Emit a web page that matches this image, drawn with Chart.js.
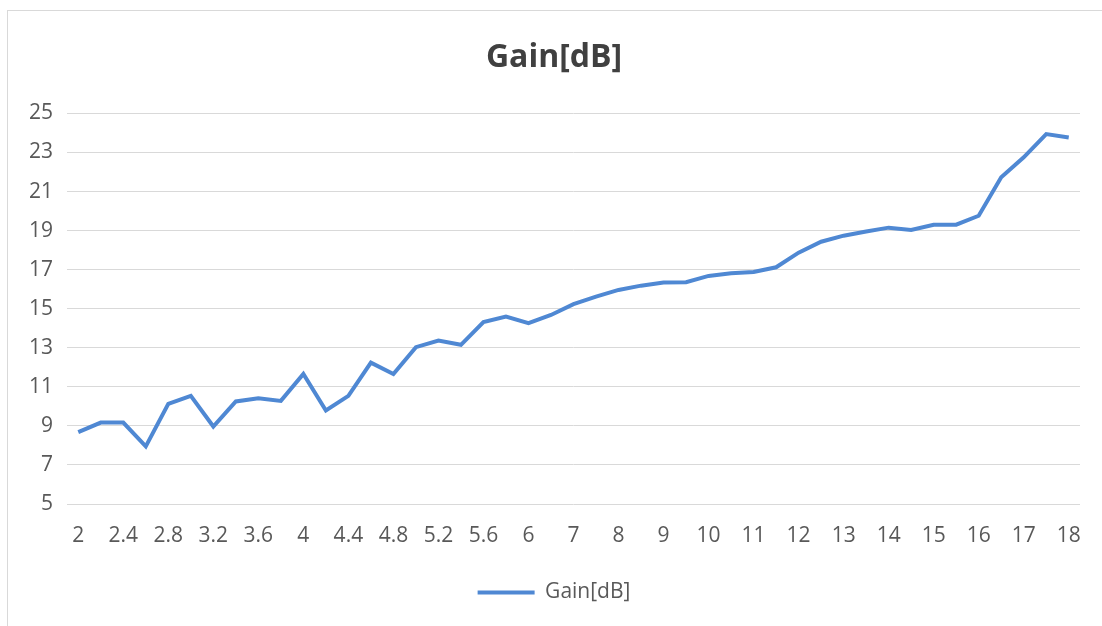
<!DOCTYPE html>
<html>
<head>
<meta charset="utf-8">
<script src="https://cdn.jsdelivr.net/npm/chart.js@4.4.0/dist/chart.umd.min.js"></script>
<style>
  html, body { margin: 0; padding: 0; background: #ffffff; }
  #frame { position: absolute; left: 7px; top: 10px; width: 1200px; height: 700px; border: 1px solid #d9d9d9; box-sizing: border-box; }
  #c { position: absolute; left: 0; top: 0; }
</style>
</head>
<body>
<div id="frame"></div>
<canvas id="c" width="1102" height="626"></canvas>
<script>
const categories = ['2','2.2','2.4','2.6','2.8','3','3.2','3.4','3.6','3.8','4','4.2','4.4','4.6','4.8','5','5.2','5.4','5.6','5.8','6',
  '6.5','7','7.5','8','8.5','9','9.5','10','10.5','11','11.5','12','12.5','13','13.5','14','14.5','15','15.5','16','16.5','17','17.5','18'];
const gainValues = [8.68, 9.17, 9.17, 7.95, 10.13, 10.54, 8.97, 10.25, 10.42, 10.28, 11.66, 9.79, 10.54, 12.24, 11.66, 13.03, 13.37, 13.15, 14.31, 14.6, 14.26,
  14.68, 15.23, 15.62, 15.96, 16.18, 16.34, 16.36, 16.68, 16.82, 16.88, 17.12, 17.87, 18.43, 18.74, 18.95, 19.15, 19.03, 19.30, 19.30, 19.76, 21.73, 22.75, 23.94, 23.77];
const shownTickLabels = ['2','2.4','2.8','3.2','3.6','4','4.4','4.8','5.2','5.6','6','7','8','9','10','11','12','13','14','15','16','17','18'];
const yTicks = [5, 7, 9, 11, 13, 15, 17, 19, 21, 23, 25];

const lineColor = '#4f88d3';
const textColor = '#595959';
const gridColor = '#d9d9d9';
const fontFamily = '"Open Sans", "Noto Sans", sans-serif';

new Chart(document.getElementById('c'), {
  type: 'line',
  data: {
    labels: categories,
    datasets: [{
      label: 'Gain[dB]',
      data: gainValues,
      borderColor: lineColor,
      backgroundColor: lineColor,
      borderWidth: 4,
      pointRadius: 0,
      tension: 0,
      fill: false
    }]
  },
  options: {
    responsive: false,
    animation: false,
    devicePixelRatio: 1,
    layout: { padding: { left: 28, right: 22, top: 0, bottom: 13 } },
    plugins: {
      title: {
        display: true,
        text: 'Gain[dB]',
        color: '#404040',
        font: { family: fontFamily, size: 32, weight: 'bold' },
        padding: { top: 39, bottom: 36 }
      },
      legend: {
        display: true,
        position: 'bottom',
        labels: {
          color: textColor,
          font: { family: fontFamily, size: 21 },
          boxWidth: 57,
          boxHeight: 4,
          padding: 8,
          generateLabels: function(chart) {
            const items = Chart.defaults.plugins.legend.labels.generateLabels(chart);
            items.forEach(function(it) { it.lineWidth = 0; it.fillStyle = lineColor; it.strokeStyle = lineColor; });
            return items;
          }
        }
      },
      tooltip: { enabled: false }
    },
    scales: {
      x: {
        type: 'category',
        offset: true,
        grid: { display: false, drawTicks: false },
        border: { display: false },
        ticks: {
          autoSkip: false,
          maxRotation: 0,
          minRotation: 0,
          padding: 19,
          color: textColor,
          font: { family: fontFamily, size: 21 },
          callback: function(value, index) {
            const lbl = categories[index];
            return shownTickLabels.indexOf(lbl) >= 0 ? lbl : '';
          }
        },
        afterFit: function(scale) { scale.height = 70; }
      },
      y: {
        min: 5,
        max: 25,
        afterBuildTicks: function(scale) { scale.ticks = yTicks.map(function(v) { return { value: v }; }); },
        grid: { color: gridColor, lineWidth: 1, drawTicks: false },
        border: { display: false },
        ticks: {
          padding: 14,
          color: textColor,
          font: { family: fontFamily, size: 21 }
        },
        afterFit: function(scale) { scale.width = 39; }
      }
    }
  }
});
</script>
</body>
</html>
